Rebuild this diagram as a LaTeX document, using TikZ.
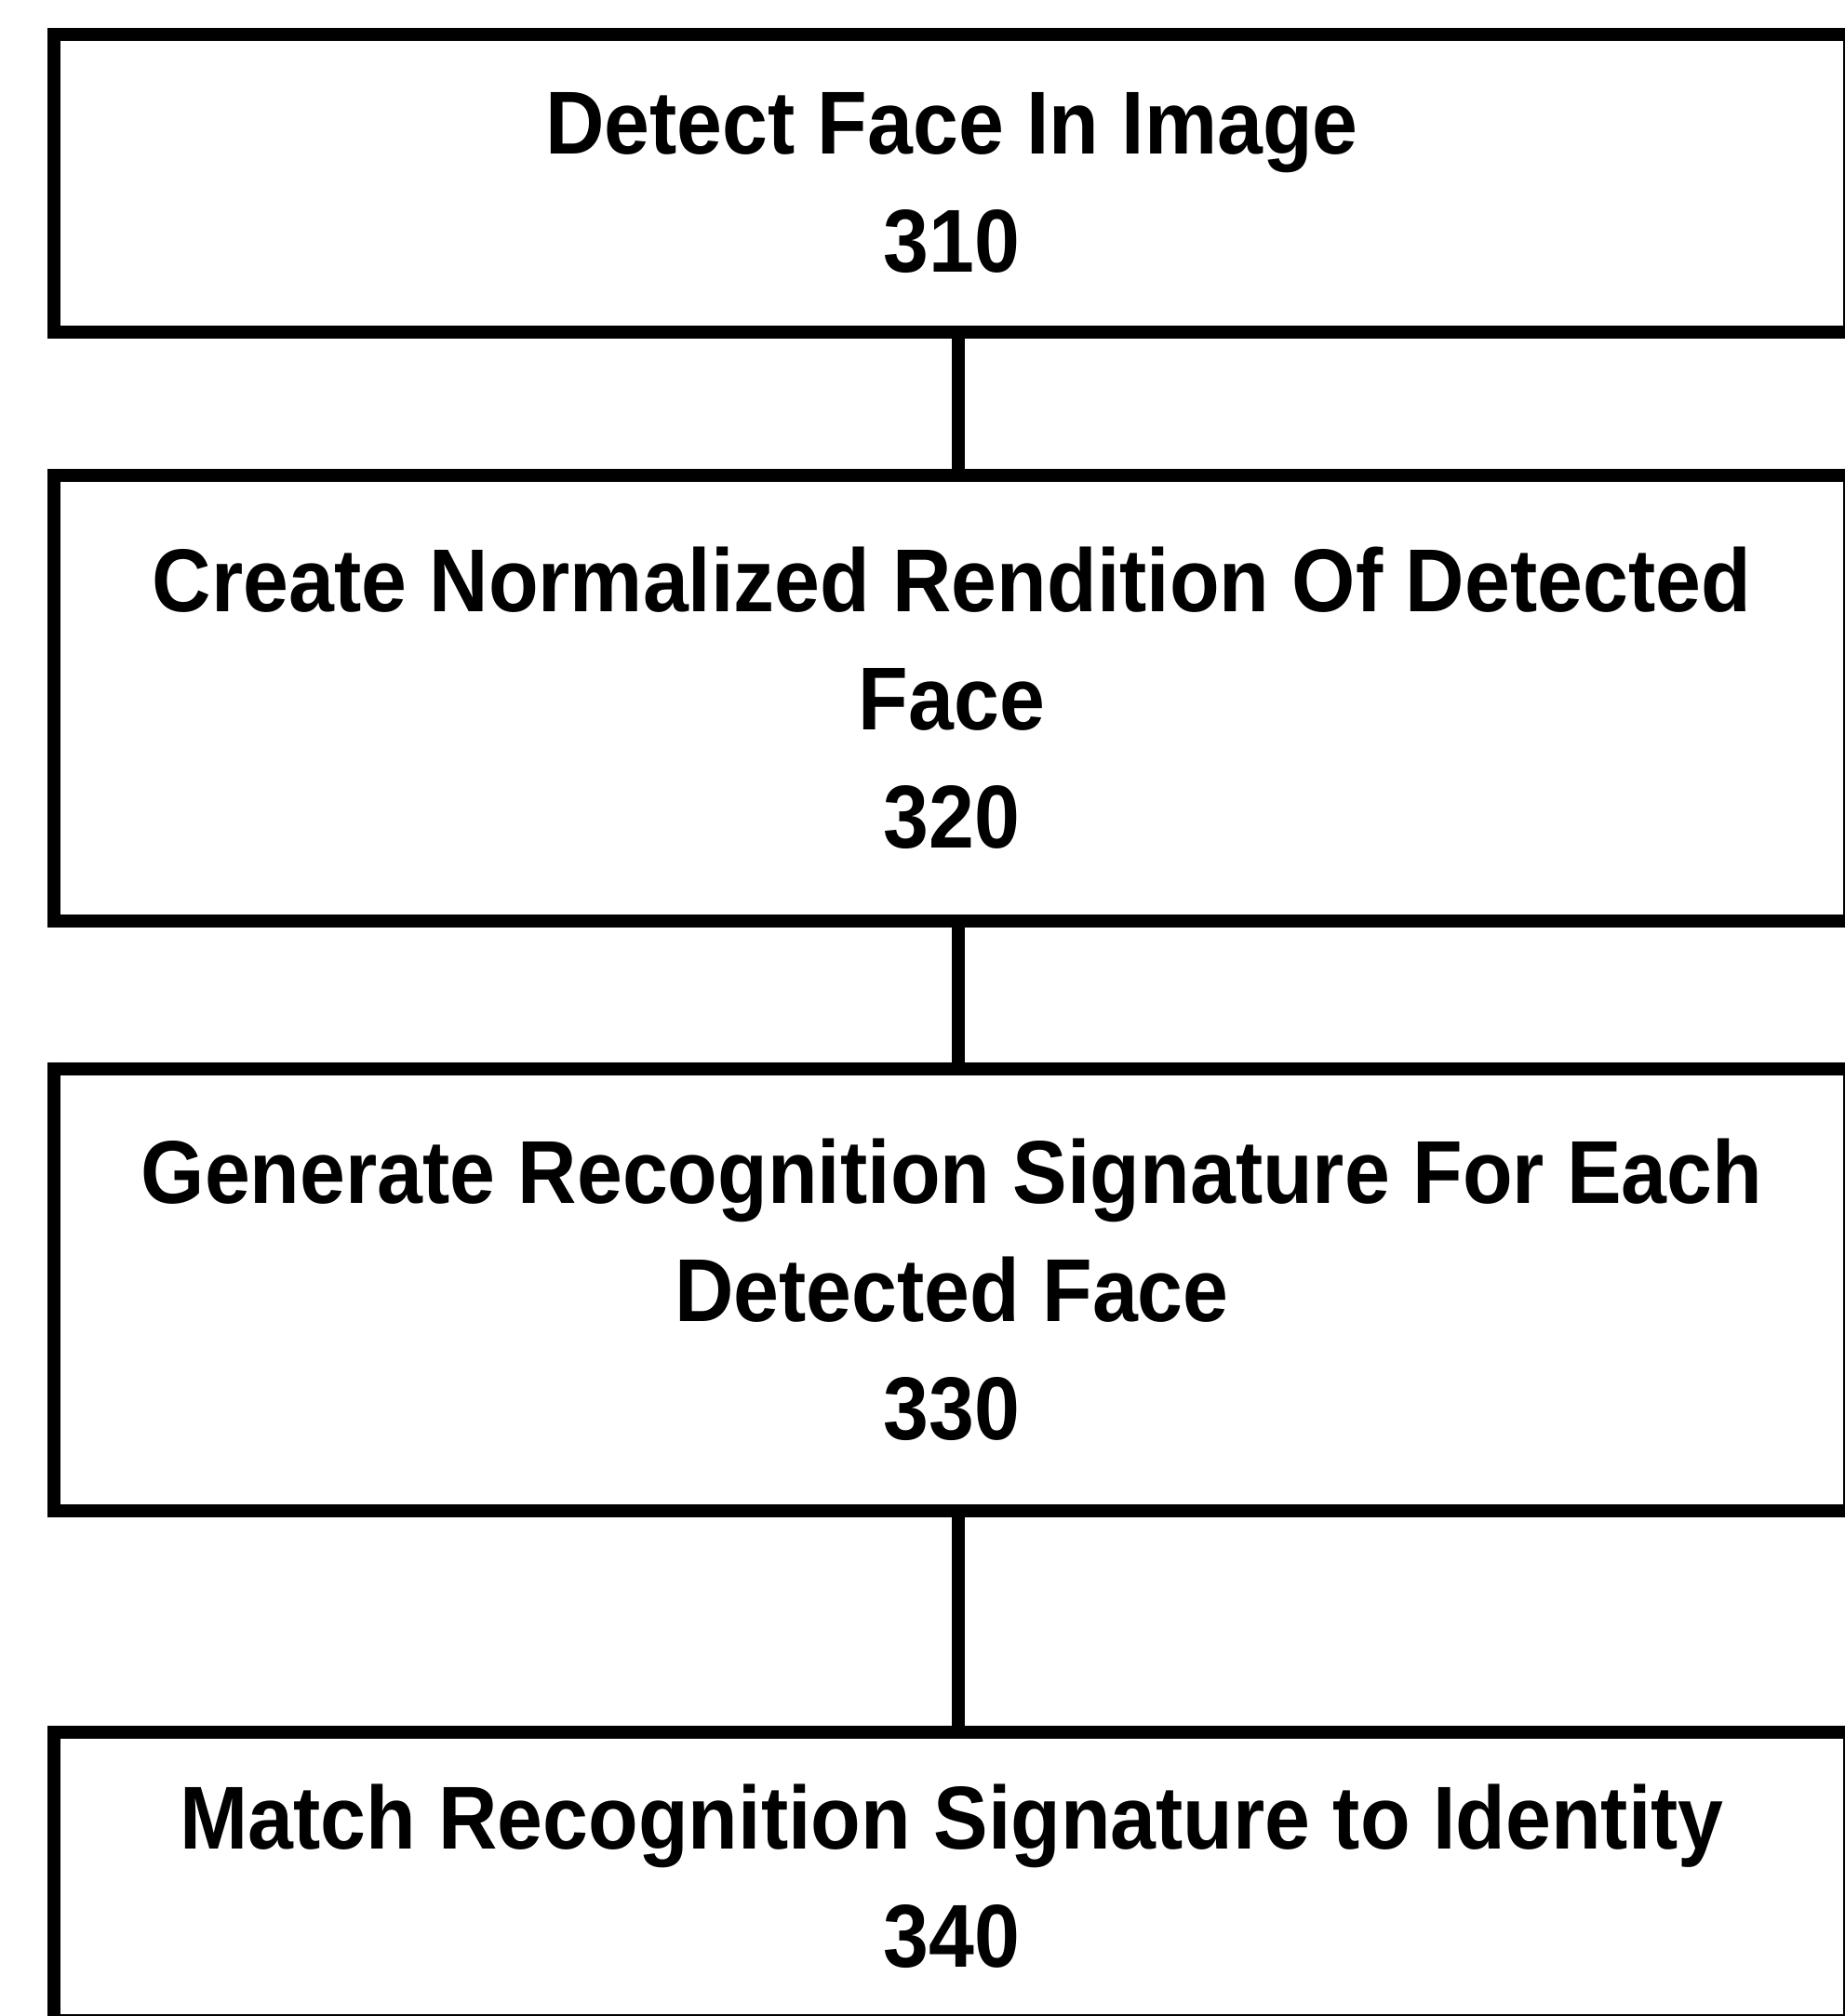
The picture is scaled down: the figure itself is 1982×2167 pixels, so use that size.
\documentclass[tikz,border=0pt]{standalone}
\usepackage{fontspec}
\newfontfamily\boxfont{Liberation Sans}[FakeStretch=0.915]
\tikzset{
  box/.style={draw, line width=14pt, minimum width=1930pt, align=center,
    font=\boxfont\bfseries\fontsize{96}{127}\selectfont, inner sep=0pt},
  link/.style={line width=14pt},
  thickedge/.style={line width=10pt}
}
\begin{document}
\begin{tikzpicture}[x=1pt,y=1pt]
\useasboundingbox (0,0) rectangle (1982,-2167);
\fill[white] (0,0) rectangle (1982,-2167);
\node[box, minimum height=320pt] (b1) at (1023,-197) {Detect Face In Image\\310};
\node[box, minimum height=479pt] (b2) at (1023,-750) {Create Normalized Rendition Of Detected\\Face\\320};
\node[box, minimum height=475pt] (b3) at (1023,-1386) {Generate Recognition Signature For Each\\Detected Face\\330};
\node[box, minimum height=310pt] (b4) at (1023,-2017) {Match Recognition Signature to Identity\\340};
\foreach \b in {b1,b2,b3,b4}
  \draw[thickedge] ([xshift=8pt]\b.north west) -- ([xshift=8pt]\b.south west);
\draw[link] ([xshift=7pt]b1.south) -- ([xshift=7pt]b2.north);
\draw[link] ([xshift=7pt]b2.south) -- ([xshift=7pt]b3.north);
\draw[link] ([xshift=7pt]b3.south) -- ([xshift=7pt]b4.north);
\end{tikzpicture}
\end{document}
